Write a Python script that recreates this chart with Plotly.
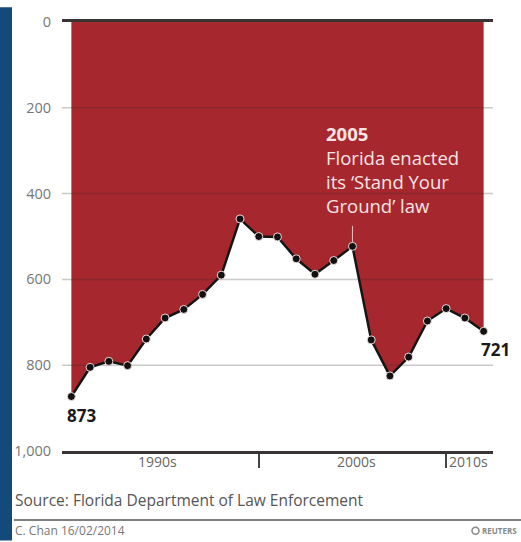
import plotly.graph_objects as go

# ---- data ----
years = list(range(1990, 2013))
values = [873, 805, 791, 801, 739, 690, 670, 635, 590, 459, 500, 501, 552,
          588, 556, 523, 741, 825, 781, 697, 668, 690, 721]
y_ticks = [0, 200, 400, 600, 800, 1000]
y_tick_text = ["0", "200", "400", "600", "800", "1,000"]
decade_bounds = [2000, 2010]
decade_labels = ["1990s", "2000s", "2010s"]
decade_label_x = [1994.6, 2005.2, 2010]
event_year = 2005
event_text = "<b>2005</b><br>Florida enacted<br>its \u2018Stand Your<br>Ground\u2019 law"
source_text = "Source: Florida Department of Law Enforcement"
credit_text = "C. Chan 16/02/2014"
logo_text = "REUTERS"

W, H = 521, 542
L, R, T, B = 62, 28, 15, 91
PW, PH = W - L - R, H - T - B


def px(xp):
    return (xp - L) / PW


def py(yp):
    return 1 - (yp - T) / PH


RED = "#a6282e"
FONT = "Open Sans"

fig = go.Figure()
fig.add_trace(go.Scatter(
    x=years, y=values, mode="lines+markers",
    fill="tozeroy", fillcolor=RED,
    line=dict(color="#151515", width=2.5),
    marker=dict(size=8, color="#111111", line=dict(color="rgba(255,235,235,0.9)", width=1)),
    hoverinfo="x+y", showlegend=False,
))

shapes = []
for v in y_ticks[1:-1]:
    shapes.append(dict(type="line", xref="paper", yref="y", x0=0, x1=1, y0=v, y1=v,
                       line=dict(color="rgba(53,40,40,0.25)", width=1.5), layer="above"))
shapes.append(dict(type="rect", xref="paper", yref="paper", x0=px(0), x1=px(12), y0=py(H), y1=py(0),
                   fillcolor="#114a7b", line=dict(width=0), layer="below"))
shapes.append(dict(type="line", xref="paper", yref="paper", x0=px(14), x1=px(W), y0=py(521), y1=py(521),
                   line=dict(color="#555555", width=1.5)))
# small logo ring
shapes.append(dict(type="circle", xref="paper", yref="paper", x0=px(472), x1=px(479), y0=py(535.5), y1=py(528.5),
                   line=dict(color="#888888", width=1.5)))

ann = []
for lab, xv in zip(decade_labels, decade_label_x):
    is_last = lab == decade_labels[-1]
    ann.append(dict(x=xv, xref="x", y=py(462), yref="paper", text=lab, showarrow=False,
                    xanchor="left" if is_last else "center", xshift=1 if is_last else 0,
                    yanchor="middle", font=dict(family=FONT, size=14, color="#666666")))
ann.append(dict(x=years[0], y=values[0], xref="x", yref="y", text=f"<b>{values[0]}</b>",
                showarrow=False, xanchor="left", xshift=-6, yanchor="middle", yshift=-19,
                font=dict(family=FONT, size=17, color="#1a1a1a")))
ann.append(dict(x=years[-1], y=values[-1], xref="x", yref="y", text=f"<b>{values[-1]}</b>",
                showarrow=False, xanchor="left", xshift=-5, yanchor="middle", yshift=-18,
                font=dict(family=FONT, size=17, color="#1a1a1a")))
ev_val = values[years.index(event_year)]
ann.append(dict(x=event_year, y=ev_val, xref="x", yref="y", text=event_text, align="left",
                showarrow=False, xanchor="left", xshift=-28, yanchor="bottom", yshift=26,
                font=dict(family=FONT, size=18.5, color="#f8e4e4")))
ann.append(dict(x=event_year, y=ev_val, xref="x", yref="y", text="", showarrow=True,
                arrowhead=0, arrowwidth=1, arrowcolor="#e8c0c0", ax=0, ay=-22, standoff=4))
ann.append(dict(x=px(13), y=py(501), xref="paper", yref="paper", text=source_text, showarrow=False,
                xanchor="left", yanchor="middle", font=dict(family=FONT, size=15.5, color="#555555")))
ann.append(dict(x=px(13), y=py(532), xref="paper", yref="paper", text=credit_text, showarrow=False,
                xanchor="left", yanchor="middle", font=dict(family=FONT, size=12, color="#777777")))
ann.append(dict(x=px(519), y=py(532), xref="paper", yref="paper", text=f"<b>{logo_text}</b>",
                showarrow=False, xanchor="right", yanchor="middle",
                font=dict(family=FONT, size=8, color="#888888")))

fig.update_layout(
    width=W, height=H, margin=dict(l=L, r=R, t=T, b=B, pad=0),
    paper_bgcolor="white", plot_bgcolor="white",
    shapes=shapes, annotations=ann,
    xaxis=dict(range=[1989.5, 2012.5], tickvals=decade_bounds, ticktext=["", ""],
               ticks="outside", ticklen=14, tickwidth=1.5, tickcolor="#444444",
               showgrid=False, zeroline=False, showline=True, mirror=True,
               linecolor="#3a3333", linewidth=2.5, fixedrange=True),
    yaxis=dict(range=[1000, 0], tickvals=y_ticks, ticktext=y_tick_text,
               showgrid=False, zeroline=False, ticks="outside", ticklen=7,
               tickcolor="rgba(0,0,0,0)",
               tickfont=dict(family=FONT, size=14.5, color="#777777"), fixedrange=True),
    font=dict(family=FONT),
)

fig.write_html("out.html", config={"displayModeBar": False},
               post_script="document.body.style.margin='0';document.body.style.overflow='hidden';")
